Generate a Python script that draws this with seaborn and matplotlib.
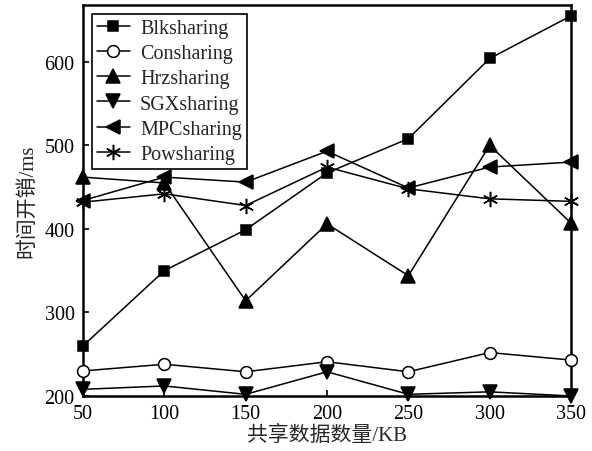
import matplotlib
matplotlib.use("Agg")
import matplotlib.pyplot as plt
import seaborn as sns
import pandas as pd

x_values = [50, 100, 150, 200, 250, 300, 350]
blk = [260, 350, 399, 467, 508, 604, 655]
con = [230, 238, 229, 241, 229, 252, 243]
hrz = [462, 455, 314, 406, 344, 500, 407]
sgx = [208, 212, 202, 229, 202, 205, 200]
mpc = [434, 462, 456, 493, 449, 474, 480]
pow_ = [432, 442, 428, 474, 448, 436, 433]
names = ["Blksharing", "Consharing", "Hrzsharing", "SGXsharing", "MPCsharing", "Powsharing"]
xlabel = "共享数据数量/KB"
ylabel = "时间开销/ms"

sns.set_theme(style="ticks")
plt.rcParams["font.family"] = ["Liberation Serif", "Noto Sans CJK SC"]

fig = plt.figure(figsize=(5.92, 4.52), dpi=100)
ax = fig.add_axes([83/592, 1-397/452, (571-83)/592, (397-6)/452])

series = [blk, con, hrz, sgx, mpc, pow_]
markers = ["s", "o", "^", "v", "<", (6, 2, 0)]
faces = ["black", "white", "black", "black", "black", "black"]
sizes = [7.5, 8.5, 10, 10, 10, 11]

for name, vals, m, fc, ms in zip(names, series, markers, faces, sizes):
    df = pd.DataFrame({"x": x_values, "y": vals})
    sns.lineplot(data=df, x="x", y="y", ax=ax, color="black", linewidth=1.1,
                 marker=m, markersize=ms, markerfacecolor=fc,
                 markeredgecolor="black", markeredgewidth=1.1, label=name,
                 clip_on=False, zorder=3)

ax.set_xlim(50, 350)
ax.set_ylim(200, 668)
ax.set_xticks(x_values)
ax.set_yticks([200, 300, 400, 500, 600])
ax.tick_params(direction="in", length=4, width=1.2, labelsize=14.5, colors="black", pad=6)
for sp in ax.spines.values():
    sp.set_visible(True)
    sp.set_linewidth(1.8)
    sp.set_color("black")

ax.set_xlabel(xlabel, fontsize=15, labelpad=1)
ax.set_ylabel(ylabel, fontsize=15, labelpad=5)

leg = ax.legend(loc="upper left", bbox_to_anchor=(0.018, 0.977), fontsize=14.5,
                frameon=True, fancybox=False, edgecolor="black", framealpha=1,
                handlelength=1.65, labelspacing=0.3, borderpad=0.25, handletextpad=0.5,
                borderaxespad=0)
leg.get_frame().set_linewidth(1.2)

fig.savefig("out.png", dpi=100)
